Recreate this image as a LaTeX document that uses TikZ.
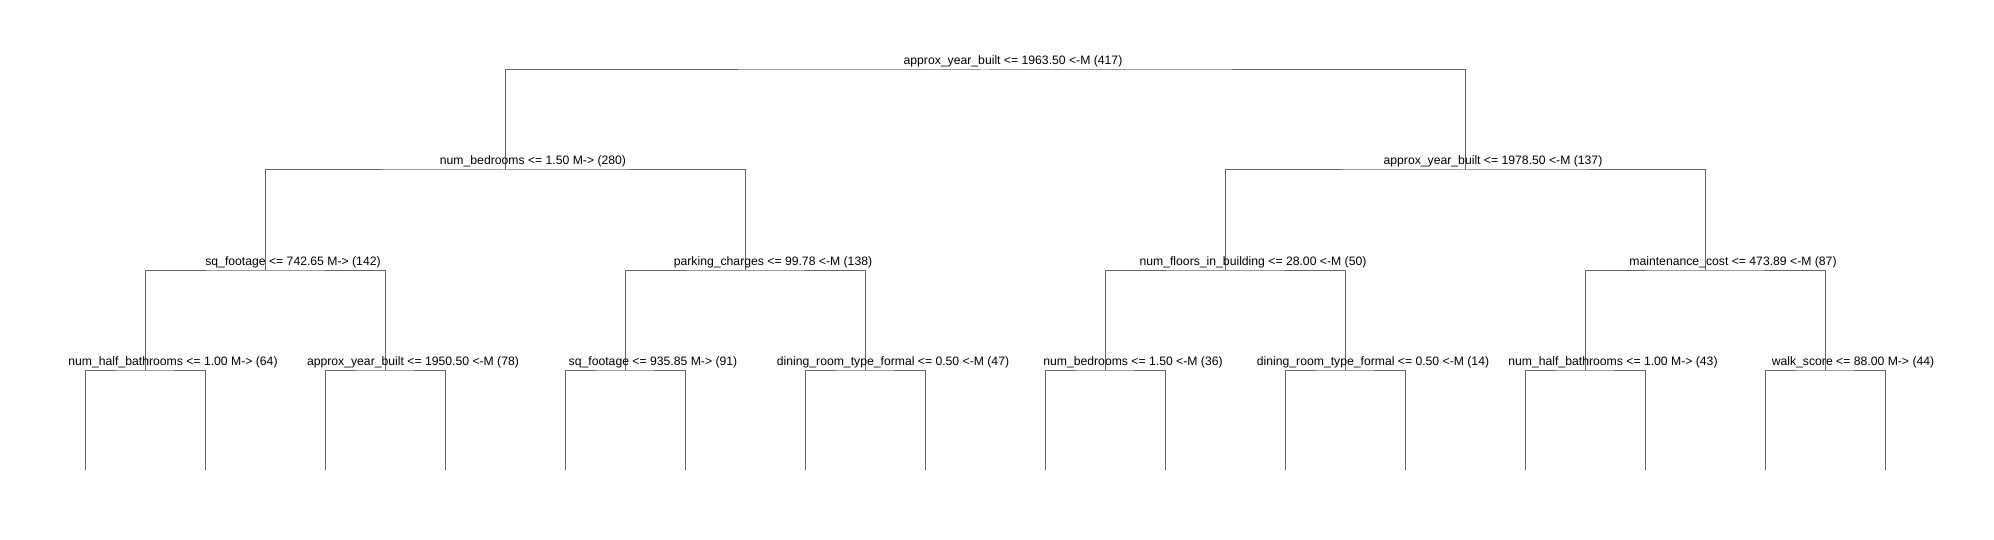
\documentclass[tikz,border=0pt]{standalone}
\usepackage{fontspec}
\setmainfont{Liberation Sans}
\tikzstyle{split} = [inner sep=0pt, anchor=base, font=\fontsize{6.1}{7}\selectfont]
\tikzstyle{branch} = [draw=black!60, line width=0.5pt]

\begin{document}
\begin{tikzpicture}[x=0.5pt, y=-0.5pt]
    \useasboundingbox (0,0) rectangle (1994,540);
    % split points
    \coordinate (a) at (985,70);
    \coordinate (b1) at (505,170);
    \coordinate (b2) at (1465,170);
    \coordinate (c1) at (265,270);
    \coordinate (c2) at (745,270);
    \coordinate (c3) at (1225,270);
    \coordinate (c4) at (1705,270);
    \coordinate (d1) at (145,370);
    \coordinate (d2) at (385,370);
    \coordinate (d3) at (625,370);
    \coordinate (d4) at (865,370);
    \coordinate (d5) at (1105,370);
    \coordinate (d6) at (1345,370);
    \coordinate (d7) at (1585,370);
    \coordinate (d8) at (1825,370);
    % leaves
    \coordinate (l1) at (85,470);
    \coordinate (l2) at (205,470);
    \coordinate (l3) at (325,470);
    \coordinate (l4) at (445,470);
    \coordinate (l5) at (565,470);
    \coordinate (l6) at (685,470);
    \coordinate (l7) at (805,470);
    \coordinate (l8) at (925,470);
    \coordinate (l9) at (1045,470);
    \coordinate (l10) at (1165,470);
    \coordinate (l11) at (1285,470);
    \coordinate (l12) at (1405,470);
    \coordinate (l13) at (1525,470);
    \coordinate (l14) at (1645,470);
    \coordinate (l15) at (1765,470);
    \coordinate (l16) at (1885,470);
    % branches
    \draw[branch] (b1) |- (a) -| (b2);
    \draw[branch] (c1) |- (b1) -| (c2);
    \draw[branch] (c3) |- (b2) -| (c4);
    \draw[branch] (d1) |- (c1) -| (d2);
    \draw[branch] (d3) |- (c2) -| (d4);
    \draw[branch] (d5) |- (c3) -| (d6);
    \draw[branch] (d7) |- (c4) -| (d8);
    \draw[branch] (l1) |- (d1) -| (l2);
    \draw[branch] (l3) |- (d2) -| (l4);
    \draw[branch] (l5) |- (d3) -| (l6);
    \draw[branch] (l7) |- (d4) -| (l8);
    \draw[branch] (l9) |- (d5) -| (l10);
    \draw[branch] (l11) |- (d6) -| (l12);
    \draw[branch] (l13) |- (d7) -| (l14);
    \draw[branch] (l15) |- (d8) -| (l16);
    % split labels
    \node[split] (ta) at ([shift={(28,-5)}]a) {approx\_year\_built <= 1963.50 <-M (417)};
    \node[split] (tb1) at ([shift={(28,-5)}]b1) {num\_bedrooms <= 1.50 M-> (280)};
    \node[split] (tb2) at ([shift={(28,-5)}]b2) {approx\_year\_built <= 1978.50 <-M (137)};
    \node[split] (tc1) at ([shift={(28,-5)}]c1) {sq\_footage <= 742.65 M-> (142)};
    \node[split] (tc2) at ([shift={(28,-5)}]c2) {parking\_charges <= 99.78 <-M (138)};
    \node[split] (tc3) at ([shift={(28,-5)}]c3) {num\_floors\_in\_building <= 28.00 <-M (50)};
    \node[split] (tc4) at ([shift={(28,-5)}]c4) {maintenance\_cost <= 473.89 <-M (87)};
    \node[split] (td1) at ([shift={(28,-5)}]d1) {num\_half\_bathrooms <= 1.00 M-> (64)};
    \node[split] (td2) at ([shift={(28,-5)}]d2) {approx\_year\_built <= 1950.50 <-M (78)};
    \node[split] (td3) at ([shift={(28,-5)}]d3) {sq\_footage <= 935.85 M-> (91)};
    \node[split] (td4) at ([shift={(28,-5)}]d4) {dining\_room\_type\_formal <= 0.50 <-M (47)};
    \node[split] (td5) at ([shift={(28,-5)}]d5) {num\_bedrooms <= 1.50 <-M (36)};
    \node[split] (td6) at ([shift={(28,-5)}]d6) {dining\_room\_type\_formal <= 0.50 <-M (14)};
    \node[split] (td7) at ([shift={(28,-5)}]d7) {num\_half\_bathrooms <= 1.00 M-> (43)};
    \node[split] (td8) at ([shift={(28,-5)}]d8) {walk\_score <= 88.00 M-> (44)};
\end{tikzpicture}
\end{document}
